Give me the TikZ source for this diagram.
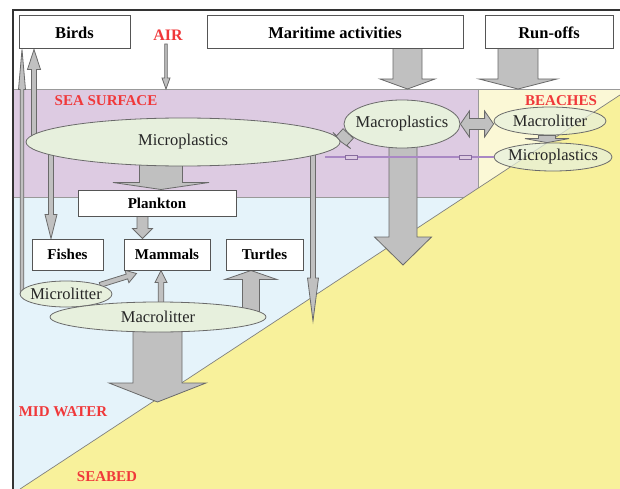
\documentclass[tikz,border=0pt]{standalone}
\usepackage{fontspec}
\setmainfont{Liberation Serif}
\usetikzlibrary{shapes.geometric,calc}
\definecolor{purp}{HTML}{DDCBE2}
\definecolor{sky}{HTML}{E5F3FA}
\definecolor{sand}{HTML}{F8F19B}
\definecolor{palesand}{HTML}{FBF8D6}
\definecolor{ellfill}{HTML}{E7F0DD}
\definecolor{arrgray}{HTML}{C0C0C0}
\definecolor{arrline}{HTML}{6A6A6A}
\definecolor{boxline}{HTML}{555555}
\definecolor{lblred}{HTML}{F0383A}
\definecolor{purpline}{HTML}{A988C4}
\pgfdeclarelayer{bg}\pgfdeclarelayer{arr}\pgfsetlayers{bg,arr,main}
% block arrow: from, to, half shaft width, half head width, head length
\newcommand\blockarr[5]{%
  \coordinate (ba-h) at ($(#2)!#5!(#1)$);
  \draw[barrow] ($(#1)!#3!90:(#2)$) -- ($(ba-h)!#3!-90:(#1)$) -- ($(ba-h)!#4!-90:(#1)$) -- (#2)
     -- ($(ba-h)!#4!90:(#1)$) -- ($(ba-h)!#3!90:(#1)$) -- ($(#1)!#3!-90:(#2)$) -- cycle;}
% double block arrow
\newcommand\dblarr[5]{%
  \coordinate (da-h1) at ($(#1)!#5!(#2)$);
  \coordinate (da-h2) at ($(#2)!#5!(#1)$);
  \draw[barrow] (#1) -- ($(da-h1)!#4!90:(#2)$) -- ($(da-h1)!#3!90:(#2)$) -- ($(da-h2)!#3!-90:(#1)$)
     -- ($(da-h2)!#4!-90:(#1)$) -- (#2) -- ($(da-h2)!#4!90:(#1)$) -- ($(da-h2)!#3!90:(#1)$)
     -- ($(da-h1)!#3!-90:(#2)$) -- ($(da-h1)!#4!-90:(#2)$) -- cycle;}
\tikzset{
 box/.style={draw=boxline, fill=white, line width=1pt, inner sep=0pt, font=\fontsize{16.5}{18}\selectfont\bfseries},
 sbox/.style={box, font=\fontsize{15}{17}\selectfont\bfseries},
 ell/.style={ellipse, draw=arrline, fill=ellfill, line width=0.8pt, inner xsep=-12pt, inner ysep=-4pt, text=black!85, font=\fontsize{16.5}{18}\selectfont},
 bell/.style={ell, fill opacity=0.72, text opacity=1},
 lbl/.style={text=lblred, font=\fontsize{15}{17}\selectfont\bfseries, inner sep=0pt},
 barrow/.style={fill=arrgray, draw=arrline, line width=0.8pt, line join=miter},
 tick/.style={draw=purpline!80!black, fill=purp, minimum width=12pt, minimum height=4pt, inner sep=0pt, line width=0.5pt},
}
\begin{document}
\begin{tikzpicture}[x=1pt,y=-1pt]
\useasboundingbox (0,0) rectangle (620,489);
\begin{pgfonlayer}{bg}
  \fill[white] (0,0) rectangle (620,489);
  \fill[sky] (14,197) rectangle (620,489);
  \fill[purp] (14,89) rectangle (478,197);
  \fill[palesand] (478,89) rectangle (620,200);
  \draw[gray!80, line width=0.6pt] (14,89) -- (620,89) (478,89) -- (478,197) (14,197) -- (478,197);
  \fill[sand] (20,489) -- (620,95) -- (620,489) -- cycle;
  \draw[gray, line width=0.7pt] (20,489) -- (620,95);
  \draw[line width=1.2pt, black!80] (620,10) -- (13,10) -- (13,489);
\end{pgfonlayer}

% nodes
\node[box, minimum width=111pt, minimum height=33pt] (birds) at (74.5,32.5) {Birds};
\node[box, minimum width=256pt, minimum height=33pt] (mar) at (335,32.5) {Maritime activities};
\node[box, minimum width=128pt, minimum height=33pt] (run) at (549,32.5) {Run-offs};
\node[lbl, font=\fontsize{16}{18}\selectfont\bfseries] (air) at (168,35) {AIR};
\node[lbl] (seasurf) at (106,101) {SEA SURFACE};
\node[lbl] (beach) at (561,101) {BEACHES};
\node[lbl] (midw) at (63,412) {MID WATER};
\node[lbl] (seabed) at (107,477) {SEABED};
\node[ell, minimum width=314pt, minimum height=48pt] (micro) at (183,142) {Microplastics};
\node[ell, minimum width=116pt, minimum height=48pt] (macro) at (402,124) {Macroplastics};
\node[bell, minimum width=112pt, minimum height=28pt] (bmacro) at (550,121) {Macrolitter};
\node[bell, minimum width=118pt, minimum height=28pt] (bmicro) at (553,157) {Microplastics};
\node[sbox, minimum width=158pt, minimum height=26pt] (plank) at (157,203) {Plankton};
\node[sbox, minimum width=71pt, minimum height=31pt] (fish) at (67.5,254.5) {Fishes};
\node[sbox, minimum width=86pt, minimum height=31pt] (mamm) at (167,254.5) {Mammals};
\node[sbox, minimum width=77pt, minimum height=31pt] (turt) at (264.5,254.5) {Turtles};
\node[ell, minimum width=92pt, minimum height=26pt] (mlit) at (66,294) {Microlitter};
\node[ell, minimum width=216pt, minimum height=30pt] (Mlit) at (158,317) {Macrolitter};

\begin{pgfonlayer}{arr}
  \coordinate (marfoot) at ([xshift=72.5pt]mar.center);
  \coordinate (marin) at (407.5,89);
  \blockarr{marfoot}{marin}{14.5pt}{27.5pt}{10pt}
  \coordinate (runfoot) at ([xshift=-31pt]run.center);
  \coordinate (runin) at (518,89);
  \blockarr{runfoot}{runin}{20pt}{39pt}{10pt}
  \coordinate (airin) at (166,89);
  \coordinate (airfoot) at (166,44);
  \blockarr{airfoot}{airin}{1.3pt}{4pt}{11pt}
  \coordinate (mp1) at ([xshift=4pt]plank.north);
  \coordinate (mp0) at (mp1 |- micro.center);
  \blockarr{mp0}{mp1}{21.5pt}{48pt}{7pt}
  \coordinate (pm0) at ([xshift=-14.5pt]plank.center);
  \coordinate (pm1) at ([xshift=-24.5pt]mamm.north);
  \blockarr{pm0}{pm1}{5.5pt}{10pt}{10pt}
  \coordinate (mf1) at ([xshift=-16.5pt]fish.north);
  \coordinate (mf0) at (mf1 |- micro.center);
  \blockarr{mf0}{mf1}{2.5pt}{6pt}{24pt}
  \coordinate (mb1) at ([xshift=-40.5pt]birds.south);
  \coordinate (mb0) at (mb1 |- micro.center);
  \blockarr{mb0}{mb1}{2.5pt}{6.5pt}{20pt}
  \coordinate (lb1) at ([xshift=-52.5pt]birds.south);
  \coordinate (lb0) at (lb1 |- mlit.center);
  \blockarr{lb0}{lb1}{1.8pt}{3.5pt}{40pt}
  \coordinate (ms1) at (313,321);
  \coordinate (ms0) at (ms1 |- micro.center);
  \blockarr{ms0}{ms1}{2.5pt}{5.5pt}{43pt}
  \coordinate (md1) at (403,265);
  \coordinate (md0) at (md1 |- macro.center);
  \blockarr{md0}{md1}{14pt}{28.5pt}{28pt}
  \coordinate (bm1) at (bmacro.west |- macro.east);
  \dblarr{macro.east}{bm1}{5.5pt}{13pt}{9pt}
  \coordinate (bb0) at ([xshift=-3pt]bmacro.south);
  \coordinate (bb1) at (bb0 |- bmicro.north);
  \blockarr{bb0}{bb1}{8.5pt}{22pt}{4pt}
  \coordinate (lm0) at (mlit.15);
  \coordinate (lm1) at ($(mamm.south west)+(13,3)$);
  \blockarr{lm0}{lm1}{2.5pt}{6.5pt}{10pt}
  \coordinate (Mm1) at ([xshift=-6pt]mamm.south);
  \coordinate (Mm0) at (Mm1 |- Mlit.center);
  \blockarr{Mm0}{Mm1}{2.8pt}{6pt}{12pt}
  \coordinate (Mt1) at ([xshift=-13.5pt]turt.south);
  \coordinate (Mt0) at (Mt1 |- Mlit.center);
  \blockarr{Mt0}{Mt1}{8.5pt}{26pt}{9pt}
  \coordinate (Mb1) at (157.5,402);
  \coordinate (Mb0) at (Mb1 |- Mlit.center);
  \blockarr{Mb0}{Mb1}{24.5pt}{48.5pt}{19pt}
\end{pgfonlayer}

% macro -> micro short wide link, its flat bar over the end of the micro ellipse
\coordinate (mm0) at (macro.190);
\coordinate (mm1) at ($(macro.190)!11pt!(micro.east)$);
\blockarr{mm0}{mm1}{7pt}{12pt}{1.5pt}
% purple link to beach microplastics
\coordinate (pl1) at (bmicro.west);
\coordinate (pl0) at ($(bmicro.west -| micro.east)+(-15,0)$);
\draw[purpline, line width=2pt] (pl0) -- (pl1) node[pos=0.154, tick] (t1) {} node[pos=0.83, tick] (t2) {};
\end{tikzpicture}
\end{document}
